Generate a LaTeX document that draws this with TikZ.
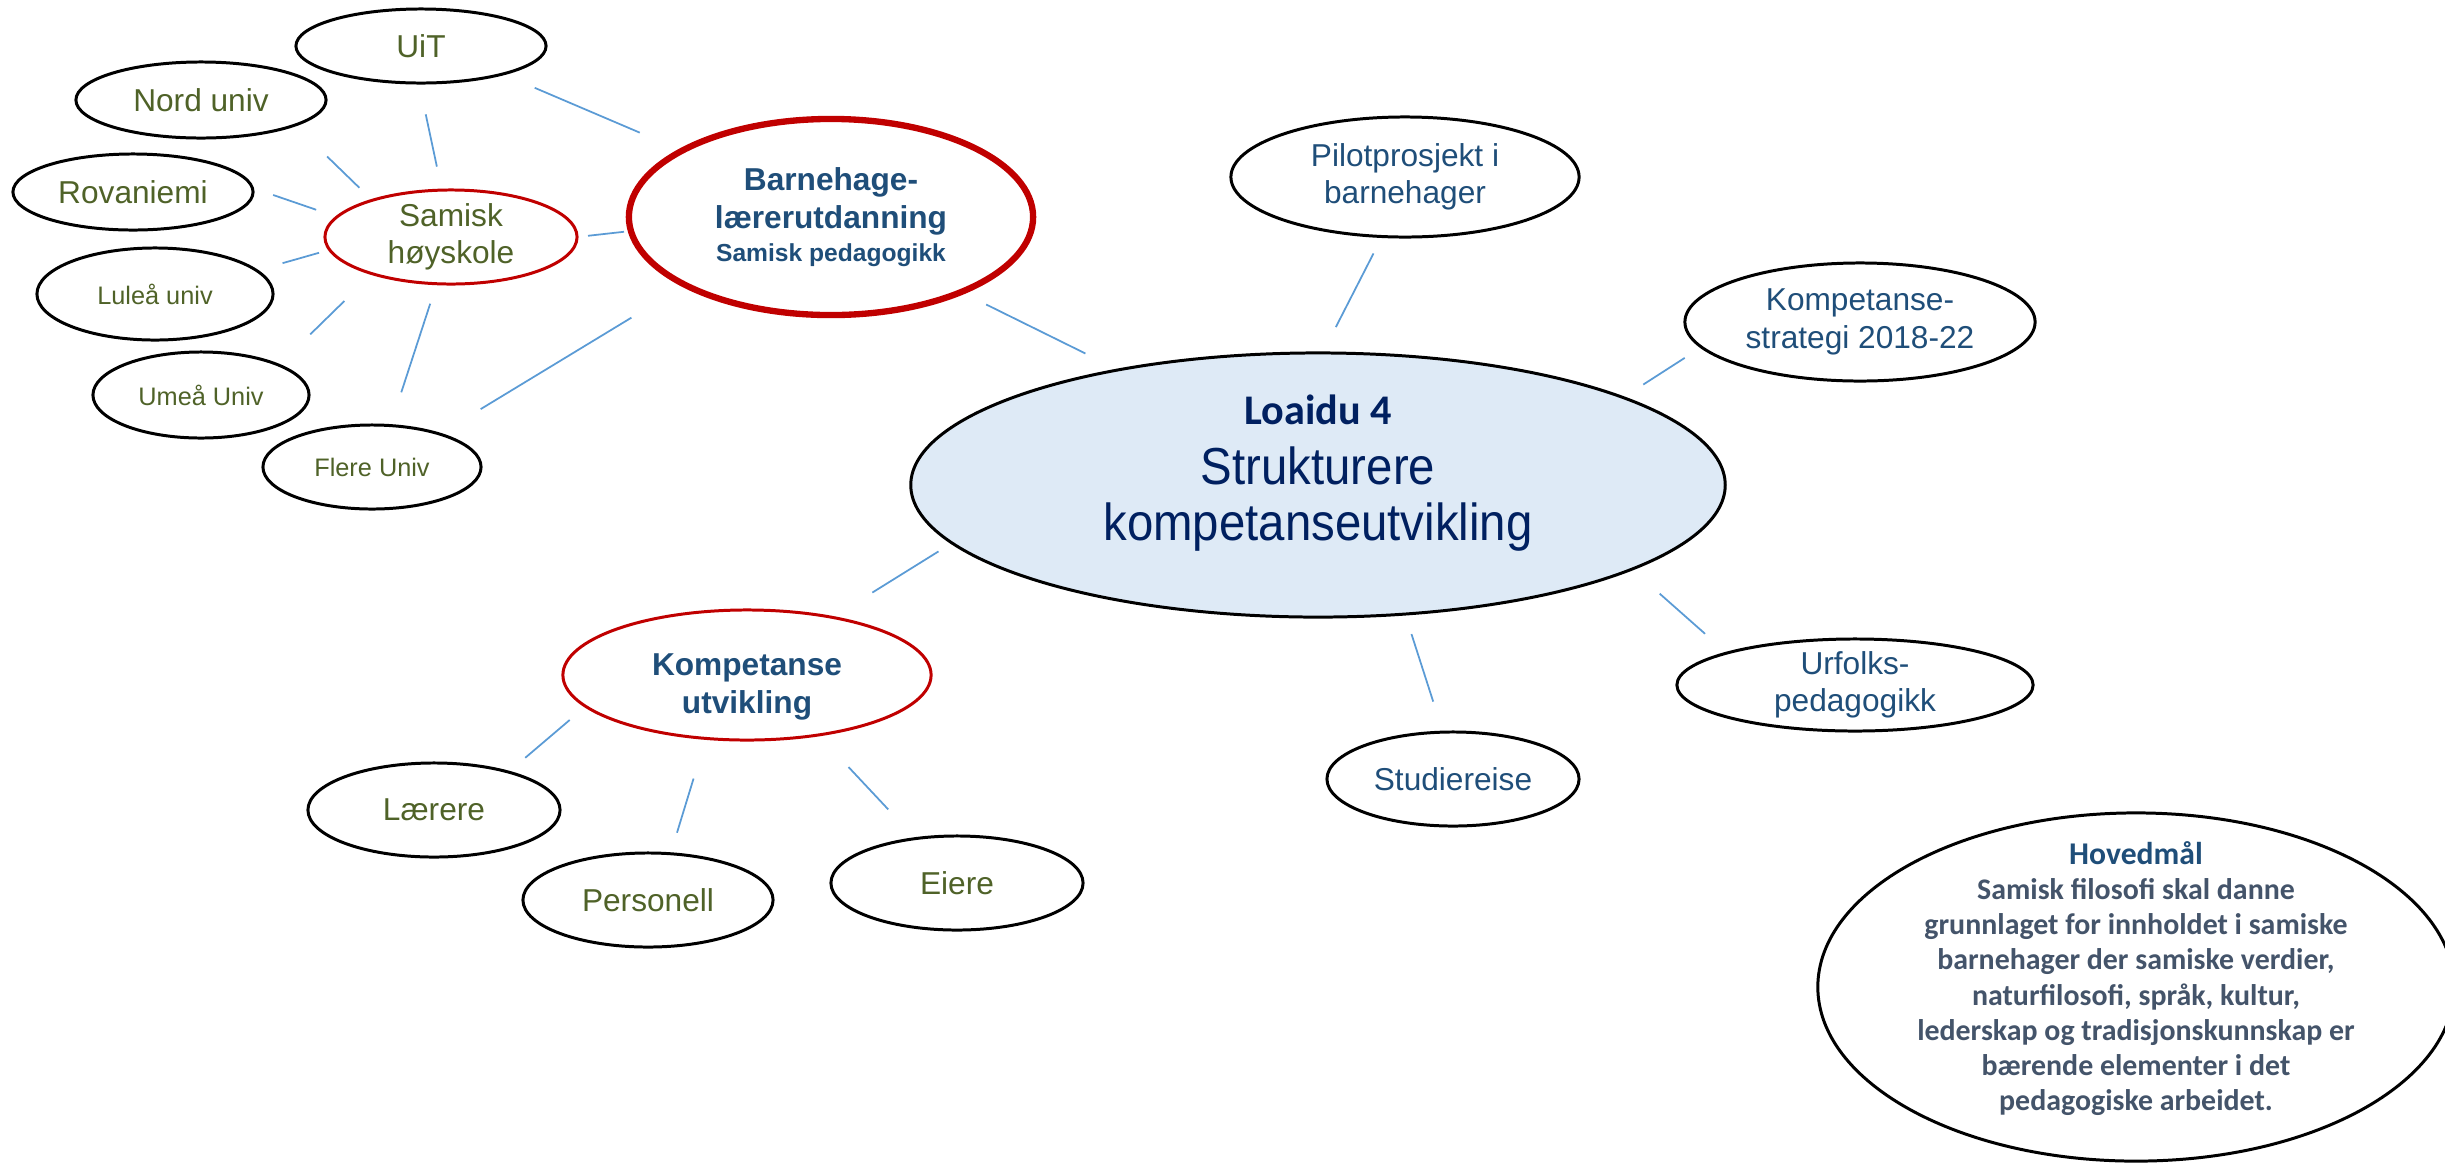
\documentclass[tikz,border=0pt]{standalone}
\usepackage{fontspec}
\setmainfont{Liberation Sans}
\newfontfamily\calibri{Carlito}
\newfontfamily\narrowarial[FakeStretch=0.91]{Liberation Sans}
\usepackage{tikz}
\usetikzlibrary{shapes.geometric}
\definecolor{leafgreen}{HTML}{4F6228}
\definecolor{topicblue}{HTML}{1F4E79}
\definecolor{corenavy}{HTML}{002060}
\definecolor{hubred}{HTML}{C00000}
\definecolor{linkblue}{HTML}{5B9BD5}
\definecolor{corefill}{HTML}{DEEAF6}
\definecolor{goalgray}{HTML}{44546A}
\tikzstyle{cn}=[shape=ellipse,draw,line width=0.85pt,inner sep=-4pt,outer sep=0pt,align=center]
\tikzstyle{leaf}=[cn,text=leafgreen,font=\fontsize{9pt}{10.6pt}\selectfont]
\tikzstyle{uni}=[cn,text=leafgreen,font=\fontsize{7.2pt}{8.6pt}\selectfont]
\tikzstyle{topic}=[cn,text=topicblue,font=\fontsize{9pt}{10.6pt}\selectfont]
\tikzstyle{hub}=[cn,draw=hubred,text=topicblue,font=\bfseries\fontsize{9pt}{10.8pt}\selectfont]
\tikzstyle{core}=[cn,fill=corefill,text=corenavy,font=\narrowarial\fontsize{14.8pt}{16pt}\selectfont]
\tikzstyle{goal}=[cn,inner sep=-10pt,text=goalgray,font=\calibri\bfseries\fontsize{8.5pt}{10pt}\selectfont]
\tikzstyle{common}=[draw=linkblue,line width=0.5pt]

\begin{document}
\begin{tikzpicture}[x=0.01cm, y=-0.01cm]
            \useasboundingbox (0, 0) rectangle (2445, 1163);
            % left cluster
            \node[leaf, minimum width=2.5cm, minimum height=0.74cm] (UiT) at (421, 46) {UiT}
            ;
            \node[leaf, minimum width=2.5cm, minimum height=0.76cm] (Nord) at (201, 100) {Nord univ}
            ;
            \node[leaf, minimum width=2.4cm, minimum height=0.76cm] (Rov) at (133, 192) {Rovaniemi}
            ;
            \node[uni, minimum width=2.36cm, minimum height=0.92cm] (Lul) at (155, 294) {Luleå univ}
            ;
            \node[uni, minimum width=2.16cm, minimum height=0.86cm] (Ume) at (201, 395) {Umeå Univ}
            ;
            \node[uni, minimum width=2.18cm, minimum height=0.84cm] (Fle) at (372, 467) {Flere Univ}
            ;
            \node[leaf, draw=hubred, minimum width=2.52cm, minimum height=0.94cm] (Sam) at (451, 237) {Samisk\\høyskole}
            ;
            \node[hub, line width=1.8pt, minimum width=4.04cm, minimum height=1.96cm] (Barn) at (831, 217)
                {Barnehage-\\lærerutdanning\\[-1.5pt]{\fontsize{7pt}{8pt}\selectfont Samisk pedagogikk}}
            ;
            % centre
            \node[core, minimum width=8.14cm, minimum height=2.64cm] (Root) at (1318, 485)
                {{\calibri\bfseries\fontsize{12pt}{14pt}\selectfont Loaidu 4}\\[1pt]Strukturere\\kompetanseutvikling\rule[-3.4mm]{0pt}{0pt}}
            ;
            \node[topic, minimum width=3.48cm, minimum height=1.2cm] (Pilot) at (1405, 177) {Pilotprosjekt i\\barnehager}
            ;
            \node[topic, minimum width=3.5cm, minimum height=1.18cm] (Komp) at (1860, 322) {Kompetanse-\\strategi 2018-22}
            ;
            \node[topic, minimum width=3.56cm, minimum height=0.92cm] (Urf) at (1855, 685) {Urfolks-\\pedagogikk}
            ;
            \node[topic, minimum width=2.52cm, minimum height=0.94cm] (Stud) at (1453, 779) {Studiereise}
            ;
            % lower cluster
            \node[hub, minimum width=3.68cm, minimum height=1.3cm] (KU) at (747, 675) {\rule{0pt}{4.5mm}Kompetanse\\utvikling}
            ;
            \node[leaf, minimum width=2.52cm, minimum height=0.94cm] (Lae) at (434, 810) {Lærere}
            ;
            \node[leaf, minimum width=2.5cm, minimum height=0.94cm] (Per) at (648, 900) {Personell}
            ;
            \node[leaf, minimum width=2.52cm, minimum height=0.94cm] (Eie) at (957, 883) {Eiere}
            ;
            % main goal
            \node[goal, minimum width=6.36cm, minimum height=3.48cm] (Goal) at (2136, 987)
                {{\color{topicblue}\fontsize{9pt}{10pt}\selectfont Hovedmål}\\
                 Samisk filosofi skal danne\\
                 grunnlaget for innholdet i samiske\\
                 barnehager der samiske verdier,\\
                 naturfilosofi, språk, kultur,\\
                 lederskap og tradisjonskunnskap er\\
                 bærende elementer i det\\
                 pedagogiske arbeidet.\rule[-2.2mm]{0pt}{0pt}}
            ;
            % connectors
            \path (UiT.-19) edge[common, shorten <=3.5mm, shorten >=4.6mm] (Barn.156)
            ;
            \path (UiT.267.5) edge[common, shorten <=3.2mm, shorten >=2.4mm] (Sam.101)
            ;
            \path (Nord.-15.5) edge[common, shorten <=4.5mm, shorten >=1.8mm] (Sam.155)
            ;
            \path (Rov.2.7) edge[common, shorten <=2.2mm, shorten >=2.2mm] (Sam.170)
            ;
            \path (Lul.13.6) edge[common, shorten <=2.7mm, shorten >=1.1mm] (Sam.186)
            ;
            \path (Ume.21) edge[common, shorten <=4.4mm, shorten >=3.9mm] (Sam.205)
            ;
            \path (Fle.66.6) edge[common, shorten <=3.5mm, shorten >=2.1mm] (Sam.253)
            ;
            \path (Fle.26.6) edge[common, shorten <=4.8mm, shorten >=6.3mm] (Barn.205.6)
            ;
            \path (Sam.0) edge[common, shorten <=1.1mm, shorten >=0.7mm] (Barn.184)
            ;
            \path (Barn.-30.7) edge[common, shorten <=2.8mm, shorten >=3.7mm] (Root.150)
            ;
            \path (Pilot.249.5) edge[common, shorten <=1.9mm, shorten >=2.9mm] (Root.88.6)
            ;
            \path (Komp.189.7) edge[common, shorten <=2mm, shorten >=2.4mm] (Root.16.8)
            ;
            \path (Urf.166.5) edge[common, shorten <=2.9mm, shorten >=3.7mm] (Root.-15.6)
            ;
            \path (Stud.102.3) edge[common, shorten <=3.2mm, shorten >=2.1mm] (Root.-56.2)
            ;
            \path (KU.34.6) edge[common, shorten <=4.7mm, shorten >=1.6mm] (Root.189.6)
            ;
            \path (KU.191.1) edge[common, shorten <=2.1mm, shorten >=2.2mm] (Lae.27.5)
            ;
            \path (KU.237.7) edge[common, shorten <=4.2mm, shorten >=2.2mm] (Per.64.4)
            ;
            \path (KU.-40.9) edge[common, shorten <=4.4mm, shorten >=4mm] (Eie.133.3)
            ;
        \end{tikzpicture}
\end{document}
